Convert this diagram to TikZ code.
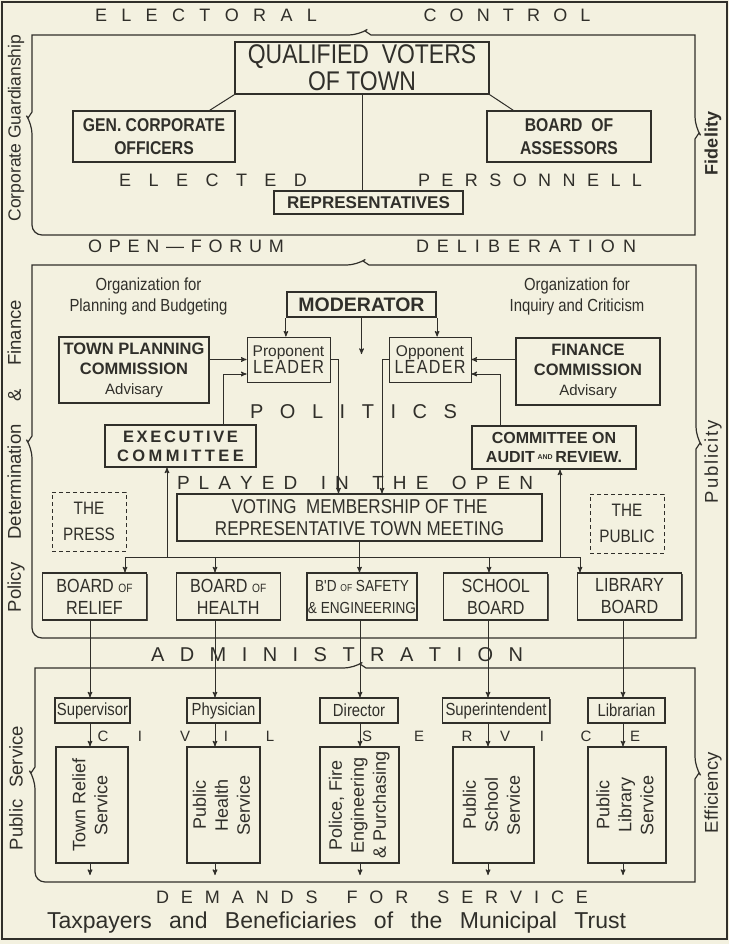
\documentclass[tikz,border=0pt]{standalone}
\usepackage{fontspec}
\setmainfont{Liberation Sans}
\newfontfamily\narrowfont[FakeStretch=0.85]{Liberation Sans}
\usepackage{tikz}
\usetikzlibrary{arrows,positioning,shadows}
\definecolor{ink}{RGB}{48,47,42}
\definecolor{paper}{RGB}{243,241,224}

\newcommand\fsz[2]{\fontsize{#1}{#2}\selectfont}
\newcommand\spreadword[2]{\makebox[#1][s]{\spreadletters#2\relax}}
\def\spreadletters#1#2{#1\ifx\relax#2\else\hfill\expandafter\spreadletters\expandafter#2\fi}
\newcommand\bracebox[7]{%
  \draw[bracepath] (#5+6,#2) -- (#3,#2) [rounded corners=10pt] -- (#3,#7-6)
    [sharp corners] -- (#3+4,#7) -- (#3,#7+6) -- (#3,#4) [rounded corners=10pt]
    -- (#1,#4) -- (#1,#6+6) [sharp corners] -- (#1-4,#6) -- (#1,#6-6) -- (#1,#2)
    [rounded corners=10pt] -- (#5-6,#2) [sharp corners] -- (#5,#2-4) -- cycle;}

\begin{document}
\begin{tikzpicture}[x=1pt,y=-1pt,>=stealth',node distance=133.75pt,color=ink]
	\tikzstyle{unit}=[draw,fill=paper,line width=1.3pt,align=center,inner sep=1pt,
		drop shadow={shadow xshift=1.1pt,shadow yshift=-1.1pt,fill=ink,opacity=.8}]
	\tikzstyle{thin unit}=[draw,fill=paper,line width=0.9pt,align=center,inner sep=1pt]
	\tikzstyle{open unit}=[draw,dash pattern=on 4pt off 3pt,line width=0.8pt,align=center]
	\tikzstyle{board}=[unit,minimum width=104pt,minimum height=47pt,font=\narrowfont\fsz{19}{22}]
	\tikzstyle{officer}=[unit,minimum height=25pt,font=\narrowfont\fsz{17.5}{18}]
	\tikzstyle{service}=[unit,minimum height=116pt,font=\fsz{18}{22}]
	\tikzstyle{banner}=[inner sep=0pt,align=center]
	\tikzstyle{side}=[inner sep=0pt,rotate=90,font=\fsz{18.5}{19}]
	\tikzstyle{bracepath}=[line width=1.2pt]
	\tikzstyle{link}=[line width=1pt]

	\fill[paper] (0,0) rectangle (729,944);
	\useasboundingbox (0,0) rectangle (729,944);
	\draw[line width=1.5pt] (2,2) rectangle (727,939);

	\bracebox{32}{35}{695}{235}{365}{118}{133}
	\bracebox{32}{265}{696}{638}{363}{442}{443}
	\bracebox{35}{668}{695}{882}{360}{773}{773}

	\node[banner,font=\fsz{18}{18}] (elec) at (206,15) {\spreadword{222pt}{ELECTORAL}};
	\node[banner,font=\fsz{18}{18}] (ctrl) at (507,15) {\spreadword{167pt}{CONTROL}};
	\node[banner,font=\fsz{18}{18}] (eled) at (213,180) {\spreadword{188pt}{ELECTED}};
	\node[banner,font=\fsz{18}{18}] (pers) at (530,180) {\spreadword{224pt}{PERSONNELL}};
	\node[banner,font=\fsz{18}{18}] (open) at (186,246) {\spreadword{196pt}{OPEN—FORUM}};
	\node[banner,font=\fsz{18}{18}] (delib) at (526,246) {\spreadword{220pt}{DELIBERATION}};
	\node[banner,font=\fsz{20}{20}] (pol) at (353.5,412) {\spreadword{207pt}{POLITICS}};
	\node[banner,font=\fsz{19}{19}] (play) at (355,483) {\spreadword{356pt}{PLAYED{\ }IN{\ }THE{\ }OPEN}};
	\node[banner,font=\fsz{20}{20}] (adm) at (337,655) {\spreadword{372pt}{ADMINISTRATION}};
	\node[banner,font=\fsz{18}{18}] (dem) at (372,897) {\spreadword{432pt}{DEMANDS{\ }FOR{\ }SERVICE}};
	\node[banner,font=\fsz{23}{23}] (tax) at (336.5,923)
		{\makebox[579pt][s]{Taxpayers and Beneficiaries of the Municipal Trust}};

	\node[side,font=\fsz{17.5}{18}] (guard) at (16,128) {Corporate Guardianship};
	\node[side] (policy) at (16,456) {\makebox[312pt][s]{Policy Determination \& Finance}};
	\node[side] (pserv) at (16,788) {\makebox[124pt][s]{Public Service}};
	\node[side,font=\bfseries\fsz{18}{19}] (fid) at (713,143.5) {Fidelity};
	\node[side] (publ) at (713,461.5) {\spreadword{83pt}{Publicity}};
	\node[side] (eff) at (713,792.5) {\spreadword{81pt}{Efficiency}};

	\node[unit,minimum width=254pt,minimum height=52pt,font=\narrowfont\fsz{27}{27}] (qv) at (362,68)
		{QUALIFIED\ \ VOTERS\\OF TOWN};
	\node[unit,minimum width=162pt,minimum height=51pt,font=\narrowfont\bfseries\fsz{18.5}{23}] (gco) at (154,136.5)
		{GEN. CORPORATE\\OFFICERS};
	\node[unit,minimum width=164pt,minimum height=51pt,font=\narrowfont\bfseries\fsz{18.5}{23}] (boa) at (569,136.5)
		{BOARD\ \ OF\\ASSESSORS};
	\node[unit,minimum width=189pt,minimum height=23pt,font=\bfseries\fsz{17}{18}] (rep) at (368.5,202.5)
		{REPRESENTATIVES};

	\node[banner,font=\narrowfont\fsz{17.5}{21}] (orgp) at (148.5,296) {Organization for\\Planning and Budgeting};
	\node[banner,font=\narrowfont\fsz{17.5}{21}] (orgi) at (577,296) {Organization for\\Inquiry and Criticism};
	\node[unit,line width=2.2pt,minimum width=149pt,minimum height=25pt,font=\bfseries\fsz{19.5}{20}] (mod) at (361.5,304.5)
		{MODERATOR};
	\node[thin unit,minimum width=83pt,minimum height=45pt] (pro) at (288.5,359.5)
		{{\fsz{15.5}{18}Proponent}\\{\narrowfont\fsz{19}{21}\spreadword{71pt}{LEADER}}};
	\node[thin unit,minimum width=82pt,minimum height=45pt] (opp) at (430,359.5)
		{{\fsz{15.5}{18}Opponent}\\{\narrowfont\fsz{19}{21}\spreadword{71pt}{LEADER}}};
	\node[unit,minimum width=150pt,minimum height=66pt,font=\bfseries\fsz{16.5}{20}] (tpc) at (134,370)
		{TOWN PLANNING\\COMMISSION\\{\mdseries\fsz{15}{18}Advisary}};
	\node[unit,minimum width=144pt,minimum height=67pt,font=\bfseries\fsz{16.5}{20}] (fin) at (588,371.5)
		{FINANCE\\COMMISSION\\{\mdseries\fsz{15}{18}Advisary}};
	\node[unit,minimum width=151pt,minimum height=42pt,font=\bfseries\fsz{16.5}{19}] (exe) at (180.5,446)
		{\spreadword{115pt}{EXECUTIVE}\\\spreadword{127pt}{COMMITTEE}};
	\node[unit,minimum width=164pt,minimum height=43pt,font=\bfseries\fsz{16}{19}] (aud) at (554,447.5)
		{COMMITTEE ON\\AUDIT\,\raisebox{3pt}{\fsz{7}{7}AND}\,REVIEW.};
	\node[unit,minimum width=365pt,minimum height=47pt,font=\narrowfont\fsz{20}{22}] (vmem) at (359.5,517.5)
		{VOTING\ \ MEMBERSHIP OF THE\\REPRESENTATIVE TOWN MEETING};
	\node[open unit,minimum width=74pt,minimum height=59pt,font=\narrowfont\fsz{18}{26}] (press) at (89,521.5) {THE\\PRESS};
	\node[open unit,minimum width=74pt,minimum height=59pt,font=\narrowfont\fsz{18}{26}] (pub) at (627,523.5) {THE\\PUBLIC};

	\node[board] (rel) at (94.5,596.5) {BOARD {\fsz{12}{12}OF}\\RELIEF};
	\node[board] (hea) [right of=rel] {BOARD {\fsz{12}{12}OF}\\HEALTH};
	\node[board,font=\narrowfont\fsz{16}{22}] (saf) [right of=hea] {B'D {\fsz{10}{10}OF} SAFETY\\\& ENGINEERING};
	\node[board] (sch) [right of=saf] {SCHOOL\\BOARD};
	\node[board] (lib) [right of=sch] {LIBRARY\\BOARD};

	\node[officer,minimum width=75pt] (sup) at (92.5,710.5) {Supervisor};
	\node[officer,minimum width=73pt] (phy) at (223.5,710.5) {Physician};
	\node[officer,minimum width=78pt] (dir) at (359,710.5) {Director};
	\node[officer,minimum width=107pt] (supt) at (496,710.5) {Superintendent};
	\node[officer,minimum width=77pt] (libn) at (626.5,710.5) {Librarian};

	\foreach \l/\x [count=\i] in {C/103,I/140,V/185,I/226,L/270,S/367,E/419,R/467,V/505,I/542,C/586,E/635}
		\node[banner,font=\fsz{15}{15}] (civ\i) at (\x,736) {\l};

	\node[service,minimum width=72pt] (rly) at (92,805)
		{\rotatebox{90}{\begin{tabular}{@{}c@{}}Town Relief\\Service\end{tabular}}};
	\node[service,minimum width=73pt] (phs) at (223.5,805)
		{\rotatebox{90}{\begin{tabular}{@{}c@{}}Public\\Health\\Service\end{tabular}}};
	\node[service,minimum width=79pt] (pol) at (359.5,805)
		{\rotatebox{90}{\begin{tabular}{@{}c@{}}Police, Fire\\Engineering\\\& Purchasing\end{tabular}}};
	\node[service,minimum width=81pt] (pss) at (493.5,805)
		{\rotatebox{90}{\begin{tabular}{@{}c@{}}Public\\School\\Service\end{tabular}}};
	\node[service,minimum width=78pt] (pls) at (627,805)
		{\rotatebox{90}{\begin{tabular}{@{}c@{}}Public\\Library\\Service\end{tabular}}};

	\draw[link] (qv.south west) -- ([xshift=-26pt]gco.north east);
	\draw[link] (qv.south east) -- ([xshift=27pt]boa.north west);
	\draw[link] (qv.south) -- (qv.south |- rep.north);

	\coordinate (hub) at (361.5,354);
	\coordinate (exeup) at ([xshift=42.5pt]exe.north);
	\coordinate (audup) at ([xshift=-54pt]aud.north);
	\draw[link,->] (mod.south west) -- (mod.south west |- pro.north);
	\draw[link,->] (mod.south east) -- (mod.south east |- opp.north);
	\draw[link,->] (mod.south) -- (hub);
	\draw[link,->] (tpc.east |- pro.west) -- (pro.west);
	\draw[link,->] (exeup) |- ([yshift=-14.5pt]pro.west);
	\draw[link,->] (fin.west |- opp.east) -- (opp.east);
	\draw[link,->] (audup) |- ([yshift=-14.5pt]opp.east);
	\draw[link,->] (pro.east) -| ([xshift=-21pt]vmem.north);
	\draw[link,->] (opp.west) -| ([xshift=22.5pt]vmem.north);

	\coordinate (f1) at (125,557);
	\coordinate (f2) at (215,557);
	\coordinate (f4) at (489,557);
	\coordinate (f5) at (580,557);
	\coordinate (fx) at (167,557);
	\coordinate (fy) at (560,557);
	\draw[link] (f1) -- (f5);
	\draw[link,->] (vmem.south) -- (vmem.south |- saf.north);
	\draw[link,->] (f1) -- (f1 |- rel.north);
	\draw[link,->] (f2) -- (f2 |- hea.north);
	\draw[link,->] (f4) -- (f4 |- sch.north);
	\draw[link,->] (f5) -- (f5 |- lib.north);
	\draw[link,->] (fx) -- (fx |- exe.south);
	\draw[link,->] (fy) -- (fy |- aud.south);

	\foreach \x/\b/\o/\s [count=\i] in {90/rel/sup/rly,215/hea/phy/phs,360/saf/dir/pol,488/sch/supt/pss,623/lib/libn/pls} {
		\coordinate (k\i) at (\x,0);
		\coordinate (e\i) at (\x,875);
		\draw[link,->] (k\i |- \b.south) -- (k\i |- \o.north);
		\draw[link,->] (k\i |- \o.south) -- (k\i |- \s.north);
		\draw[link,->] (k\i |- \s.south) -- (e\i);
	}
\end{tikzpicture}
\end{document}
